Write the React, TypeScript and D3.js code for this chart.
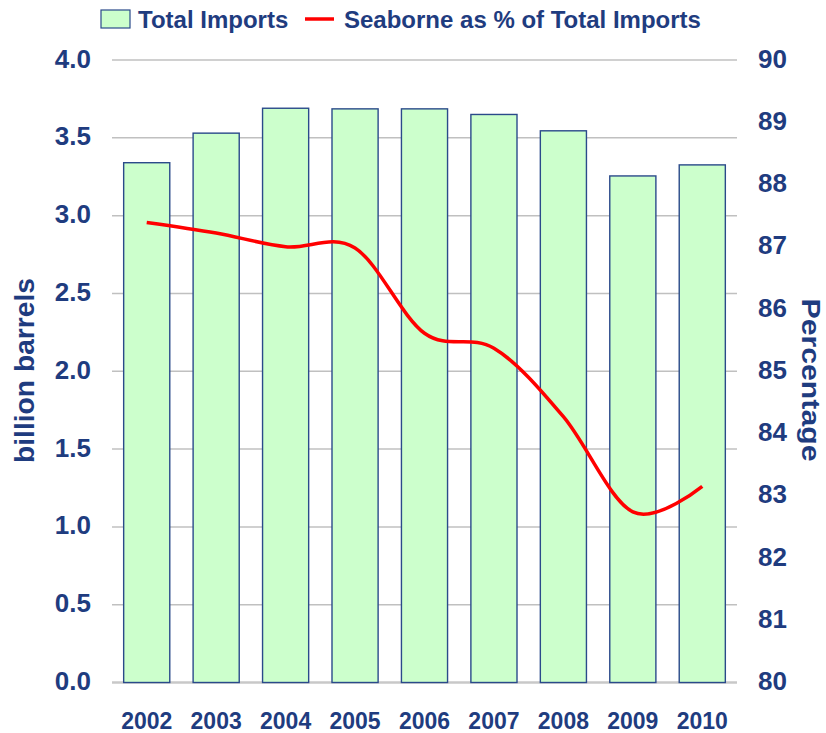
import React from "react";
import * as d3 from "d3";

const years = ["2002", "2003", "2004", "2005", "2006", "2007", "2008", "2009", "2010"];
const totalImports = [3.34, 3.53, 3.69, 3.686, 3.686, 3.65, 3.545, 3.255, 3.326];
const seabornePct = [87.39, 87.22, 87.0, 86.98, 85.61, 85.37, 84.27, 82.74, 83.15];
const leftTicks = [0, 0.5, 1, 1.5, 2, 2.5, 3, 3.5, 4];
const rightTicks = [80, 81, 82, 83, 84, 85, 86, 87, 88, 89, 90];

const NAVY = "#1F3C7F";
const FONT = "'Liberation Sans', Arial, sans-serif";

export default function App() {
  const W = 826;
  const H = 733;
  const x0 = 112;
  const x1 = 737;
  const yTop = 60;
  const yBot = 682.5;

  const x = d3.scaleBand<string>().domain(years).range([x0, x1]).paddingInner(0.336).paddingOuter(0.168);
  const yL = d3.scaleLinear().domain([0, 4]).range([yBot, yTop]);
  const yR = d3.scaleLinear().domain([80, 90]).range([yBot, yTop]);

  const line = d3
    .line<number>()
    .x((_, i) => (x(years[i]) as number) + x.bandwidth() / 2)
    .y((d) => yR(d))
    .curve(d3.curveCardinal.tension(0));

  return (
    <svg width={W} height={H} style={{ position: "absolute", left: 0, top: 0 }} fontFamily={FONT} fontWeight="bold">
      <rect x={0} y={0} width={W} height={H} fill="#ffffff" />
      {/* gridlines */}
      {leftTicks.map((t) => (
        <line
          key={"g" + t}
          x1={x0}
          x2={x1}
          y1={yL(t)}
          y2={yL(t)}
          stroke={t === 0 ? "#c8c8c8" : "#c0c0c0"}
          strokeWidth={t === 0 ? 2.5 : 1.5}
        />
      ))}
      {/* bars */}
      {years.map((yr, i) => (
        <rect
          key={"b" + yr}
          x={x(yr)}
          y={yL(totalImports[i])}
          width={x.bandwidth()}
          height={yL(0) - yL(totalImports[i])}
          fill="#CCFFCC"
          stroke="#2A4A8A"
          strokeWidth={1.4}
        />
      ))}
      {/* line */}
      <path d={line(seabornePct) || ""} fill="none" stroke="#FF0000" strokeWidth={3.5} strokeLinejoin="round" />
      {/* left ticks */}
      {leftTicks.map((t) => (
        <text key={"l" + t} x={91} y={yL(t) + 7.5} textAnchor="end" fontSize={26} fill={NAVY}>
          {d3.format(".1f")(t)}
        </text>
      ))}
      {/* right ticks */}
      {rightTicks.map((t) => (
        <text key={"r" + t} x={758} y={yR(t) + 7.5} textAnchor="start" fontSize={26} fill={NAVY}>
          {t}
        </text>
      ))}
      {/* x labels */}
      {years.map((yr) => (
        <text
          key={"x" + yr}
          x={(x(yr) as number) + x.bandwidth() / 2}
          y={729}
          textAnchor="middle"
          fontSize={23}
          fill={NAVY}
        >
          {yr}
        </text>
      ))}
      {/* axis titles */}
      <text
        transform={`translate(33.5,370.5) rotate(-90)`}
        textAnchor="middle"
        fontSize={27}
        fill={NAVY}
        textLength={185}
        lengthAdjust="spacingAndGlyphs"
      >
        billion barrels
      </text>
      <text
        transform={`translate(802,380) rotate(90)`}
        textAnchor="middle"
        fontSize={25}
        fill={NAVY}
        textLength={163}
        lengthAdjust="spacingAndGlyphs"
      >
        Percentage
      </text>
      {/* legend */}
      <rect x={101} y={10} width={29} height={18} fill="#CCFFCC" stroke="#2A4A8A" strokeWidth={1.2} />
      <text x={138} y={28} fontSize={24} fill={NAVY}>
        Total Imports
      </text>
      <line x1={305} x2={334} y1={19} y2={19} stroke="#FF0000" strokeWidth={3.5} />
      <text x={344} y={28} fontSize={24} fill={NAVY}>
        Seaborne as % of Total Imports
      </text>
    </svg>
  );
}
